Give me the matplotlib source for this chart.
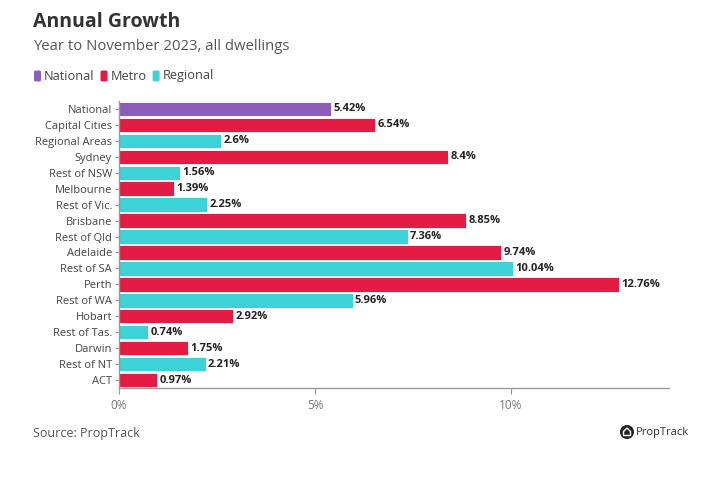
import matplotlib.pyplot as plt
from matplotlib.patches import FancyBboxPatch, Ellipse, Polygon

# Data
regions = ['National', 'Capital Cities', 'Regional Areas', 'Sydney', 'Rest of NSW',
           'Melbourne', 'Rest of Vic.', 'Brisbane', 'Rest of Qld', 'Adelaide',
           'Rest of SA', 'Perth', 'Rest of WA', 'Hobart', 'Rest of Tas.',
           'Darwin', 'Rest of NT', 'ACT']
growth = [5.42, 6.54, 2.6, 8.4, 1.56, 1.39, 2.25, 8.85, 7.36, 9.74,
          10.04, 12.76, 5.96, 2.92, 0.74, 1.75, 2.21, 0.97]
groups = ['National', 'Metro', 'Regional', 'Metro', 'Regional', 'Metro', 'Regional',
          'Metro', 'Regional', 'Metro', 'Regional', 'Metro', 'Regional', 'Metro',
          'Regional', 'Metro', 'Regional', 'Metro']
group_colors = {'National': '#8E5DB6', 'Metro': '#E41B43', 'Regional': '#3CD3D8'}

plt.rcParams['font.family'] = ['Open Sans', 'DejaVu Sans']

W, H = 717, 490
fig = plt.figure(figsize=(W / 100, H / 100), dpi=100)
ax = fig.add_axes([0.166, 0.208, 0.767, 0.586])

colors = [group_colors[g] for g in groups]
ax.barh(range(len(regions)), growth, height=0.9, color=colors,
        edgecolor='white', linewidth=0.6)

for i, v in enumerate(growth):
    ax.text(v + 0.06, i, f'{v:g}%', va='center', ha='left', fontsize=8,
            fontweight='bold', color='#222222')

ax.set_yticks(range(len(regions)))
ax.set_yticklabels(regions, fontsize=8, color='#444444')
ax.set_ylim(17.5, -0.5)
ax.set_xlim(0, 14.03)
ax.set_xticks([0, 5, 10])
ax.set_xticklabels(['0%', '5%', '10%'], fontsize=8.5, color='#777777')

for s in ['top', 'right']:
    ax.spines[s].set_visible(False)
for s in ['left', 'bottom']:
    ax.spines[s].set_color('#9a9a9a')
    ax.spines[s].set_linewidth(1.0)
ax.tick_params(axis='y', length=3, color='#9a9a9a', pad=2)
ax.tick_params(axis='x', length=4, color='#9a9a9a', pad=4)

# Titles
fig.text(33 / W, 1 - 22 / H, 'Annual Growth', fontsize=14, fontweight='bold',
         color='#333333', va='center', ha='left')
fig.text(33 / W, 1 - 47 / H, 'Year to November 2023, all dwellings', fontsize=10.7,
         color='#555555', va='center', ha='left')

# Legend with rounded squares
x = 34 / W
ly = 1 - 76 / H
for name in ['National', 'Metro', 'Regional']:
    fig.patches.append(FancyBboxPatch((x, ly - 5.5 / H), 7 / W, 11 / H,
                                      boxstyle='round,pad=0,rounding_size=0.003',
                                      transform=fig.transFigure,
                                      facecolor=group_colors[name], edgecolor='none'))
    t = fig.text(x + 10 / W, ly, name, fontsize=9.2, color='#444444', va='center', ha='left')
    fig.canvas.draw()
    bb = t.get_window_extent().transformed(fig.transFigure.inverted())
    x = bb.x1 + 6 / W

fig.text(33 / W, 1 - 433 / H, 'Source: PropTrack', fontsize=9, color='#555555',
         va='center', ha='left')

# PropTrack mark
cx, cy = 627, 432
fig.patches.append(Ellipse((cx / W, 1 - cy / H), 14 / W, 14 / H, transform=fig.transFigure,
                           facecolor='#222222', edgecolor='none'))
house = [(cx - 3.5, cy + 3.5), (cx + 3.5, cy + 3.5), (cx + 3.5, cy - 0.5),
         (cx, cy - 4), (cx - 3.5, cy - 0.5)]
fig.patches.append(Polygon([(px / W, 1 - py / H) for px, py in house], closed=True,
                           transform=fig.transFigure, facecolor='none',
                           edgecolor='white', linewidth=1.0))
fig.text(636 / W, 1 - 432 / H, 'PropTrack', fontsize=8, color='#333333',
         va='center', ha='left')

fig.savefig('out.png', dpi=100)
